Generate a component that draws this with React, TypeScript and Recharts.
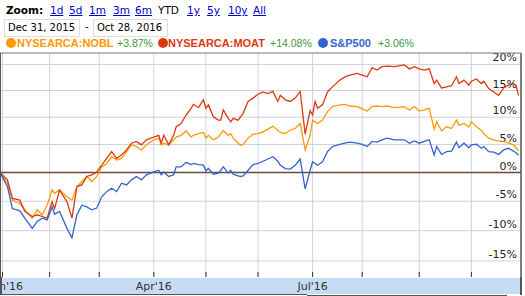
import React from 'react';
import {
  LineChart,
  Line,
  XAxis,
  YAxis,
  CartesianGrid,
  ReferenceLine,
} from 'recharts';

// trading-day index since Dec 31, 2015 (0) up to Oct 28, 2016 (209)
const tradingDay = [
  0, 3, 5, 8, 10, 13, 15, 17, 19, 21, 22, 24, 27, 29, 31, 33, 35, 37, 39, 41,
  43, 45, 47, 49, 51, 53, 55, 57, 59, 62, 64, 65, 66, 68, 70, 71, 73, 75, 77, 78,
  80, 82, 83, 84, 86, 88, 89, 90, 92, 93, 94, 96, 97, 98, 100, 102, 104, 106, 108, 110,
  112, 113, 115, 117, 119, 121, 123, 125, 126, 127, 128, 130, 132, 134, 137, 139, 141, 144, 146, 148,
  150, 152, 154, 156, 159, 163, 165, 167, 169, 171, 173, 175, 176, 178, 180, 182, 184, 185, 187, 189,
  190, 192, 194, 195, 197, 199, 201, 203, 205, 207, 208, 209,
];

// % change since Dec 31, 2015
const nobl = [
  0, -1.88, -4.81, -5.4, -6.46, -7.89, -6.46, -7.32, -5.69, -3.06, -3.65, -3.06, -4.23, -4.81, -2.47, -1.59, -0.7, -1.59, -0.7, 1.0,
  1.6, 2.8, 2.2, 2.5, 3.71, 4.93, 4.63, 4.02, 4.93, 5.85, 6.16, 4.93, 5.24, 4.93, 5.85, 6.36, 6.67, 7.5, 6.36, 6.67,
  6.98, 7.19, 6.16, 6.67, 5.85, 6.36, 6.98, 7.5, 6.67, 6.98, 6.16, 5.24, 4.83, 5.04, 6.16, 6.88, 6.98, 7.29, 7.81, 8.32,
  7.6, 7.19, 6.98, 7.6, 7.91, 8.84, 4.02, 6.67, 9.46, 9.15, 8.84, 9.46, 11.03, 11.98, 12.29, 12.4, 12.08, 11.98, 11.56, 11.14,
  11.98, 12.08, 11.98, 12.08, 11.77, 11.98, 11.35, 11.98, 11.14, 11.35, 11.66, 7.81, 9.15, 7.5, 8.22, 7.91, 9.46, 8.53, 8.84, 8.22,
  9.15, 8.22, 7.6, 6.98, 6.16, 5.85, 5.65, 5.55, 5.24, 4.93, 4.42, 3.87,
];

const moat = [
  0, -1.29, -4.52, -4.81, -6.75, -7.61, -7.32, -7.61, -7.89, -5.11, -6.26, -3.06, -5.11, -7.89, -2.47, -2.18, -0.7, -0.4, 0.1, 1.3,
  2.5, 3.71, 2.5, 3.11, 4.02, 5.24, 5.55, 4.93, 5.85, 6.36, 6.67, 5.24, 6.67, 4.93, 6.67, 8.22, 8.84, 10.4, 11.66, 12.4,
  11.77, 13.24, 11.66, 12.29, 10.09, 9.46, 9.46, 11.35, 9.78, 9.15, 9.78, 9.46, 10.09, 10.72, 12.93, 13.56, 14.3, 14.73, 14.41, 14.84,
  12.93, 14.09, 13.24, 12.93, 13.56, 14.84, 6.88, 11.24, 10.4, 12.93, 11.66, 12.29, 14.73, 15.69, 16.98, 17.62, 17.95, 18.27, 17.95, 17.62,
  19.36, 18.92, 19.57, 19.68, 19.57, 19.9, 19.14, 19.57, 19.14, 18.92, 19.14, 16.33, 16.98, 15.48, 15.69, 15.91, 17.62, 16.33, 16.98, 16.01,
  16.76, 17.19, 16.33, 16.76, 15.37, 14.73, 14.09, 15.48, 16.01, 16.33, 15.91, 14.08,
];

const spx = [
  0, -2.47, -6.26, -6.65, -7.89, -9.61, -8.47, -7.89, -8.18, -5.98, -7.23, -6.75, -9.61, -11.21, -7.32, -5.69, -5.98, -6.46, -6.17, -4.23,
  -3.35, -2.77, -3.35, -1.88, -2.18, -1.29, -0.7, -1.29, -0.4, 0.1, 0.4, -0.4, 0.1, -0.7, -0.4, 1.0, 1.0, 1.8, 1.4, 1.6,
  1.4, 1.3, 0.3, 0.7, -0.3, -0.1, 0.4, 1.0, -0.1, 0.4, -0.3, -0.6, -0.7, -0.6, 0.4, 1.4, 1.6, 2.0, 2.4, 2.8,
  2.0, 1.3, 0.7, 0.6, 1.3, 2.4, -2.86, 0.4, 1.9, 1.6, 1.3, 1.9, 3.71, 4.63, 5.04, 5.24, 5.44, 5.24, 5.04, 4.63,
  5.55, 5.44, 5.85, 6.16, 5.85, 5.85, 5.24, 5.65, 5.24, 5.55, 5.85, 3.11, 4.63, 3.21, 3.71, 3.82, 5.44, 4.42, 5.24, 4.42,
  4.93, 5.04, 4.32, 4.63, 3.71, 3.61, 3.21, 4.02, 4.32, 3.82, 3.51, 3.06,
];

const monthTicks = [1, 20, 40, 62, 83, 104, 126, 146, 169, 190];
const monthLabels = ["Jan'16", '', '', "Apr'16", '', '', "Jul'16", '', '', ''];
const yTicks = [-15, -10, -5, 0, 5, 10, 15, 20];
const zoomLinks = [
  { label: '1d', x: 50 },
  { label: '5d', x: 69 },
  { label: '1m', x: 89 },
  { label: '3m', x: 113 },
  { label: '6m', x: 135 },
  { label: 'YTD', x: 158, active: true },
  { label: '1y', x: 187 },
  { label: '5y', x: 207 },
  { label: '10y', x: 228 },
  { label: 'All', x: 253 },
];

const ORANGE = '#ff9900';
const RED = '#dc3912';
const BLUE = '#3366cc';
const GREEN = '#3d9a3d';
const FONT = '"DejaVu Sans", Verdana, sans-serif';

// the source chart compresses the axis towards the top (log-like)
const warp = (p: number) => 200 * Math.log(1 + p / 200);
const warpedTicks = yTicks.map(warp);

const data = tradingDay.map((d, i) => ({ d, nobl: warp(nobl[i]), moat: warp(moat[i]), spx: warp(spx[i]) }));

const MonthTick = (props: any) => {
  const { x, y, payload } = props;
  const i = monthTicks.indexOf(payload.value);
  const first = i === 0;
  return (
    <g>
      <line x1={x} x2={x} y1={y - 5} y2={y} stroke="#333" strokeWidth={1} />
      <text x={first ? 23 : x} y={y + 13} textAnchor={first ? 'end' : 'middle'} fontSize={11} fill="#333" fontFamily={FONT}>
        {monthLabels[i]}
      </text>
    </g>
  );
};

const pctLabel = (v: number) => (props: any) => {
  const vb = props.viewBox || {};
  return (
    <text x={517} y={(vb.y ?? 0) - 3} textAnchor="end" fontSize={11} fill="#222" fontFamily={FONT}>
      {v + '%'}
    </text>
  );
};

const Dot = ({ color, x }: { color: string; x: number }) => (
  <span style={{ position: 'absolute', left: x, top: 38, width: 10, height: 10, borderRadius: 5, background: color }} />
);

const Label = ({ x, color, bold, children }: any) => (
  <span style={{ position: 'absolute', left: x, top: 37, fontSize: bold ? 11 : 10.5, lineHeight: '13px', fontWeight: bold ? 'bold' : 'normal', color, fontFamily: '"Liberation Sans", Arial, sans-serif', whiteSpace: 'nowrap' }}>
    {children}
  </span>
);

export default function App() {
  return (
    <div style={{ position: 'absolute', left: 0, top: 0, width: 525, height: 296, background: '#fff', overflow: 'hidden', fontFamily: FONT }}>
      {/* zoom row */}
      <span style={{ position: 'absolute', left: 6, top: 4, fontSize: 10.5, fontWeight: 'bold', color: '#000' }}>Zoom:</span>
      {zoomLinks.map((z) => (
        <span key={z.label} style={{ position: 'absolute', left: z.x, top: 4, fontSize: 10.5, color: z.active ? '#000' : '#0000cc', textDecoration: z.active ? 'none' : 'underline' }}>
          {z.label}
        </span>
      ))}
      {/* date range */}
      <div style={{ position: 'absolute', left: 4, top: 19, border: '1px solid #ddd', fontSize: 10, lineHeight: '16px', paddingLeft: 3, boxSizing: 'border-box', width: 76, height: 18 }}>Dec 31, 2015</div>
      <span style={{ position: 'absolute', left: 85, top: 21, fontSize: 10 }}>-</span>
      <div style={{ position: 'absolute', left: 93, top: 19, border: '1px solid #ddd', fontSize: 10, lineHeight: '16px', paddingLeft: 3, boxSizing: 'border-box', width: 75, height: 18 }}>Oct 28, 2016</div>
      {/* legend */}
      <Dot color={ORANGE} x={6} />
      <Label x={17} color={ORANGE} bold>NYSEARCA:NOBL</Label>
      <Label x={117} color={GREEN}>+3.87%</Label>
      <Dot color={RED} x={158} />
      <Label x={168} color={RED} bold>NYSEARCA:MOAT</Label>
      <Label x={270} color={GREEN}>+14.08%</Label>
      <Dot color={BLUE} x={318} />
      <Label x={330} color={BLUE} bold>S&amp;P500</Label>
      <Label x={378} color={GREEN}>+3.06%</Label>

      {/* navigator band under the plot */}
      <div style={{ position: 'absolute', left: 0, top: 278, width: 521, height: 16, background: '#c6dcf4' }} />
      <div style={{ position: 'absolute', left: 0, top: 294, width: 307, height: 1, background: '#555' }} />
      <div style={{ position: 'absolute', left: 307, top: 295, width: 200, height: 1, background: '#555' }} />

      <div style={{ position: 'absolute', left: 0, top: 0 }}>
        <LineChart width={525} height={296} data={data} margin={{ top: 53, right: 4, bottom: 2, left: 0 }}>
          <CartesianGrid stroke="#cfd3dc" strokeWidth={1} horizontalValues={warpedTicks} verticalValues={monthTicks} />
          <XAxis
            dataKey="d"
            type="number"
            domain={[0, 210]}
            ticks={monthTicks}
            height={17}
            tickSize={0}
            tickMargin={0}
            axisLine={false}
            tickLine={false}
            tick={<MonthTick />}
            interval={0}
          />
          <YAxis type="number" domain={[-18.43, 21.08]} ticks={warpedTicks} hide />
          {yTicks.map((v) => (
            <ReferenceLine key={v} y={warp(v)} stroke="none" label={pctLabel(v)} />
          ))}
          <ReferenceLine y={0} stroke="#6a4a3c" strokeWidth={1.5} />
          <Line type="linear" dataKey="nobl" stroke={ORANGE} strokeWidth={1.3} dot={false} isAnimationActive={false} />
          <Line type="linear" dataKey="moat" stroke={RED} strokeWidth={1.3} dot={false} isAnimationActive={false} />
          <Line type="linear" dataKey="spx" stroke={BLUE} strokeWidth={1.3} dot={false} isAnimationActive={false} />
          {/* frame */}
          <ReferenceLine x={0} stroke="#555" strokeWidth={2} />
          <ReferenceLine x={210} stroke="#555" strokeWidth={1.5} />
          <ReferenceLine y={21.08} stroke="#777" strokeWidth={1} />
        </LineChart>
      </div>
      <div style={{ position: 'absolute', left: 0, top: 277, width: 2, height: 18, background: '#555' }} />
      <div style={{ position: 'absolute', left: 520, top: 277, width: 1.5, height: 18, background: '#555' }} />
    </div>
  );
}
